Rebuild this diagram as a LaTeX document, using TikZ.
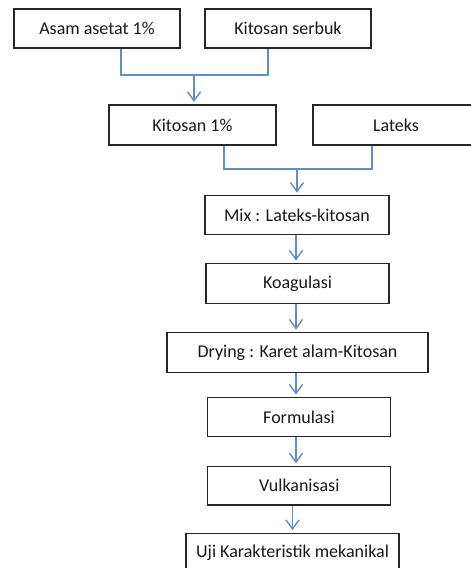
\documentclass[tikz,border=0pt]{standalone}
\usepackage{fontspec}
\setmainfont{Carlito}
\usetikzlibrary{arrows.meta}
\definecolor{conn}{RGB}{100,140,200}
\tikzset{
  box/.style={draw=black!85, line width=1.2pt, fill=white, inner sep=0pt, font=\fontsize{18}{21}\selectfont, text=black!90},
  link/.style={draw=conn, line width=1.4pt},
  arr/.style={link, -{Straight Barb[length=9pt,width=13pt,line width=1.4pt]}, shorten >=2.5pt}
}
\begin{document}
\begin{tikzpicture}[x=1pt,y=-1pt]
\useasboundingbox (0,0) rectangle (471,568);
\clip (0,0) rectangle (471,568);
\node[box, minimum width=166pt, minimum height=39pt] (a) at (97,28.5) {Asam asetat 1\%};
\node[box, minimum width=166pt, minimum height=39pt] (b) at (288,28.5) {Kitosan serbuk};
\node[box, minimum width=167pt, minimum height=40pt] (c) at (192.5,125) {Kitosan 1\%};
\node[box, minimum width=166pt, minimum height=40pt] (d) at (396,125) {Lateks};
\node[box, minimum width=184pt, minimum height=38.5pt] (e) at (297,215) {Mix : Lateks-kitosan};
\node[box, minimum width=183pt, minimum height=39.5pt] (f) at (297.5,283.4) {Koagulasi};
\node[box, minimum width=261pt, minimum height=39.5pt] (g) at (297.5,352.5) {Drying : Karet alam-Kitosan};
\node[box, minimum width=183pt, minimum height=38.5pt] (h) at (299,417) {Formulasi};
\node[box, minimum width=183pt, minimum height=38.5pt] (i) at (299.3,485.7) {Vulkanisasi};
\node[box, minimum width=213pt, minimum height=39pt] (j) at (292.5,552.7) {Uji Karakteristik mekanikal};
\coordinate (j1) at (194,75);
\coordinate (j2) at (297,169);
\coordinate (ax) at (296,0);
\draw[link] ([xshift=24pt]a.south) |- (j1) -| ([xshift=-20pt]b.south);
\draw[arr] (j1) -- (c.north -| j1);
\draw[link] ([xshift=31.5pt]c.south) |- (j2) -| ([xshift=-24pt]d.south);
\draw[arr] (j2) -- (e.north -| j2);
\draw[arr] (e.south -| ax) -- (f.north -| ax);
\draw[arr] (f.south -| ax) -- (g.north -| ax);
\draw[arr] (g.south -| ax) -- (h.north -| ax);
\draw[arr] (h.south -| ax) -- (i.north -| ax);
\draw[arr] (i.south -| j.north) -- (j.north);
\end{tikzpicture}
\end{document}
